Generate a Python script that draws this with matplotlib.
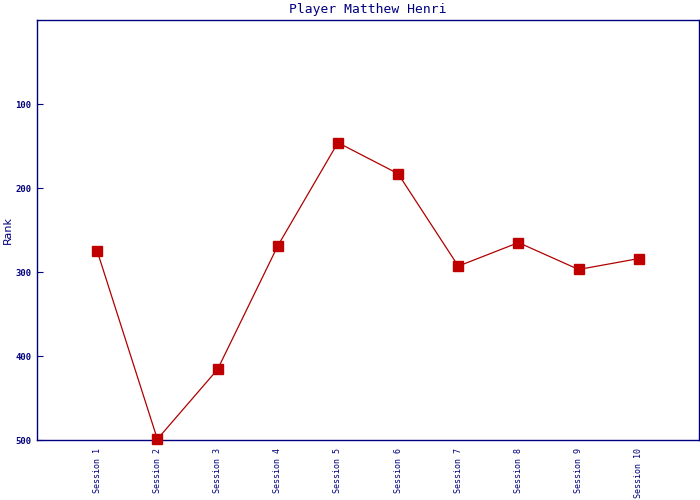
import matplotlib
matplotlib.use("Agg")
import matplotlib.pyplot as plt

# data
sessions = ["Session 1", "Session 2", "Session 3", "Session 4", "Session 5",
            "Session 6", "Session 7", "Session 8", "Session 9", "Session 10"]
ranks = [275, 499, 416, 269, 146, 183, 293, 265, 297, 284]
y_ticks = [100, 200, 300, 400, 500]

NAVY = "#00007f"
RED = "#c00000"

fig = plt.figure(figsize=(7, 5), dpi=100)
ax = fig.add_axes([37 / 700, 60 / 500, 662 / 700, 420 / 500])

x = list(range(1, len(sessions) + 1))
ax.plot(x, ranks, color="#b00000", linewidth=0.9, marker="s", markersize=6.8,
        markerfacecolor=RED, markeredgecolor=RED, clip_on=False, zorder=3)

ax.set_xlim(0, len(sessions) + 1)
ax.set_ylim(500, 0)

ax.set_yticks(y_ticks)
ax.set_yticklabels([str(v) for v in y_ticks], family="DejaVu Sans Mono",
                   fontsize=6.5, fontweight="bold", color=NAVY)
ax.set_xticks(x)
ax.set_xticklabels(sessions, rotation=90, family="DejaVu Sans Mono",
                   fontsize=6, color=NAVY, va="top")

ax.tick_params(axis="y", direction="in", length=4, color=NAVY, pad=4)
ax.tick_params(axis="x", length=0, pad=6)

for s in ax.spines.values():
    s.set_color(NAVY)
    s.set_linewidth(1)

ax.set_ylabel("Rank", color=NAVY, fontsize=8, labelpad=2)
ax.set_title("Player Matthew Henri", color=NAVY, family="DejaVu Sans Mono",
             fontsize=9.4, pad=5)

fig.savefig("out.png", dpi=100)
